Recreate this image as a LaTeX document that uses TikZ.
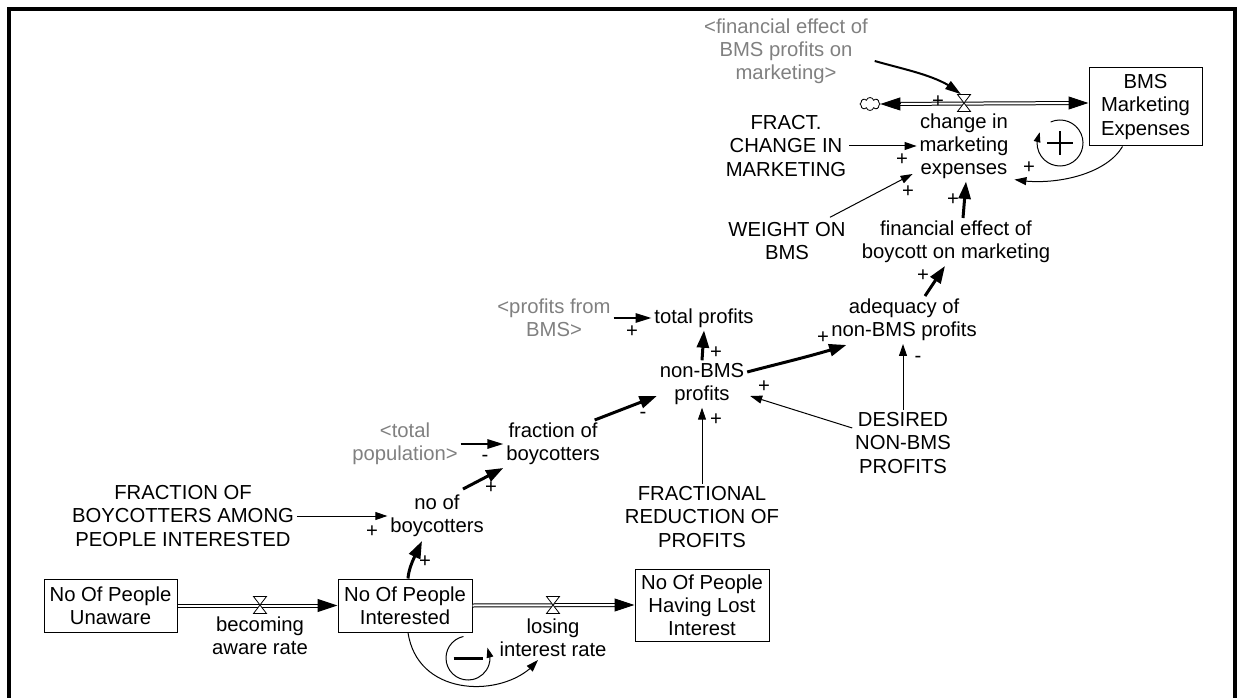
\documentclass[tikz,border=0pt]{standalone}
\usepackage{fontspec}
\setmainfont{Liberation Sans}
\usetikzlibrary{arrows.meta,bending,shapes.symbols}
\definecolor{shadowgray}{RGB}{128,128,128}
\newcommand\dfont{\fontsize{15.2pt}{17.4pt}\selectfont}

\tikzset{
  valveglyph/.pic={\draw[fill=white,line width=0.6pt] (-6.5,-8.5) -- (6.5,-8.5) -- (-6.5,8.5) -- (6.5,8.5) -- cycle;},
}

\begin{document}
\begin{tikzpicture}[x=0.75pt,y=-0.75pt,
  every node/.style={font=\dfont, inner sep=2pt, align=center},
  stock/.style={draw, line width=0.75pt, inner sep=1pt},
  shadowvar/.style={text=shadowgray},
  valvebox/.style={inner sep=0pt, minimum width=9.75pt, minimum height=12.75pt},
  sign/.style={inner sep=0pt},
  link/.style={line width=0.75pt, -{Triangle[length=9pt,width=6pt]}},
  midlink/.style={line width=1.5pt, -{Triangle[length=12pt,width=7pt]}},
  boldlink/.style={line width=2.25pt, -{Triangle[length=13pt,width=9pt]}},
  pipe/.style={double, line width=0.75pt, double distance=1.5pt},
  flowtip/.style={line width=0.75pt, -{Triangle[length=15pt,width=9.75pt]}},
  looparc/.style={line width=0.75pt, -{Triangle[length=7.5pt,width=5pt]}},
]
\useasboundingbox (0,0) rectangle (1241,698);

% frame, open at the bottom
\draw[line width=3pt] (9,698) -- (9,9) -- (1235,9) -- (1235,698);

% stocks
\node[stock, minimum width=133*0.75pt, minimum height=53*0.75pt] (unaware) at (110.5,605.5) {No Of People\\Unaware};
\node[stock, minimum width=134*0.75pt, minimum height=53*0.75pt] (interested) at (405,605.5) {No Of People\\Interested};
\node[stock, minimum width=134*0.75pt, minimum height=72*0.75pt] (lost) at (702,605) {No Of People\\Having Lost\\Interest};
\node[stock, minimum width=113*0.75pt, minimum height=78*0.75pt] (bms) at (1145.5,107) {BMS\\Marketing\\Expenses};
\node[cloud, draw, cloud puffs=8, line width=0.6pt, inner sep=0pt, minimum width=15pt, minimum height=9.75pt] (source) at (870,104) {};

% valves
\node[valvebox] (vAware) at (260,605) {};
\node[valvebox] (vLose) at (553,605) {};
\node[valvebox] (vMkt) at (964,103) {};

% flow labels
\node (lAware) at (260,636) {becoming\\aware rate};
\node (lLose) at (553,638) {losing\\interest rate};
\node (lMkt) at (964,146) {change in\\marketing\\expenses};

% auxiliaries
\node[shadowvar] (finbms) at (786,51) {\textless financial effect of\\BMS profits on\\marketing\textgreater};
\node (fract) at (786,146) {FRACT.\\CHANGE IN\\MARKETING};
\node (weight) at (787,241) {WEIGHT ON\\BMS};
\node (finboy) at (956,242) {financial effect of\\boycott on marketing};
\node (adequacy) at (904,320) {adequacy of\\non-BMS profits};
\node (desired) at (903,443) {DESIRED\\NON-BMS\\PROFITS};
\node (total) at (704,318) {total profits};
\node[shadowvar] (profbms) at (554,318) {\textless profits from\\BMS\textgreater};
\node (nonbms) at (702,384) {non-BMS\\profits};
\node (fracboy) at (553,444) {fraction of\\boycotters};
\node[shadowvar] (totpop) at (405,444) {\textless total\\population\textgreater};
\node (noboy) at (437,516) {no of\\boycotters};
\node (among) at (183,516) {FRACTION OF\\BOYCOTTERS AMONG\\PEOPLE INTERESTED};
\node (fracred) at (702,517) {FRACTIONAL\\REDUCTION OF\\PROFITS};

% flow pipes
\draw[pipe, shorten >=14pt] (unaware.east) -- (interested.west);
\draw[flowtip] ([shift={(-20,0)}]interested.west) -- (interested.west);
\draw[pipe, shorten >=14pt] (interested.east) -- (lost.west);
\draw[flowtip] ([shift={(-20,0)}]lost.west) -- (lost.west);
\draw[pipe, shorten <=14pt, shorten >=14pt] (source.east) -- ([shift={(0,-4)}]bms.west);
\draw[flowtip] ([shift={(20,0)}]source.east) -- (source.east);
\draw[flowtip] ([shift={(-20,-4)}]bms.west) -- ([shift={(0,-4)}]bms.west);
\pic at (vAware) {valveglyph};
\pic at (vLose) {valveglyph};
\pic at (vMkt) {valveglyph};

% causal links
\draw[midlink] ([shift={(4,10)}]finbms.east) .. controls +(35,10) and +(-20,-18) .. ([shift={(-3,0)}]vMkt.north);
\draw[link] (fract.east) -- (lMkt.west);
\draw[link] ([shift={(43,-2)}]weight.north) -- ([shift={(-4,28)}]lMkt.west);
\draw[boldlink] ([shift={(7,0)}]finboy.north) -- ([shift={(2,0)}]lMkt.south);
\draw[link] ([shift={(-23,0)}]bms.south) .. controls +(-17,29) and +(37,7) .. ([shift={(3,-2)}]lMkt.south east);
\draw[midlink] (profbms.east) -- (total.west);
\draw[boldlink] (nonbms.north) -- (total.south);
\draw[link] (fracred.north) -- (fracred.north |- nonbms.south);
\draw[boldlink] ([shift={(-8,0)}]fracboy.north east) -- ([shift={(0,12)}]nonbms.west);
\draw[midlink] (totpop.east) -- (fracboy.west);
\draw[boldlink] ([shift={(26,-3)}]noboy.north) -- (fracboy.south west);
\draw[link] (among.east) -- (noboy.west);
\draw[boldlink] ([shift={(3,0)}]interested.north) .. controls +(1,-14) and +(-5,12) .. ([shift={(-15,1)}]noboy.south);
\draw[boldlink] ([shift={(0,-12)}]nonbms.east) .. controls +(30,-8) and +(-30,10) .. ([shift={(18,1)}]adequacy.south west);
\draw[link] (desired.north) -- (desired.north |- adequacy.south);
\draw[link] ([shift={(0,-15)}]desired.west) -- ([shift={(3,12)}]nonbms.east);
\draw[boldlink] ([shift={(21,0)}]adequacy.north) -- ([shift={(-11,0)}]finboy.south);
\draw[link] ([shift={(3,0)}]interested.south) .. controls +(10,68) and +(-28,38) .. ([shift={(-15,0)}]lLose.south);

% polarities
\node[sign] (s1) at (938,102) {+};
\node[sign] (s2) at (902,160) {+};
\node[sign] (s3) at (908,192) {+};
\node[sign] (s4) at (953,200) {+};
\node[sign] (s5) at (1029,168) {+};
\node[sign] (s6) at (632,332) {+};
\node[sign] (s7) at (716,353) {+};
\node[sign] (s8) at (716,420) {+};
\node[sign] (s9) at (643,415) {-};
\node[sign] (s10) at (485,458) {-};
\node[sign] (s11) at (491,488) {+};
\node[sign] (s12) at (372,532) {+};
\node[sign] (s13) at (425,562) {+};
\node[sign] (s14) at (823,338) {+};
\node[sign] (s15) at (918,359) {-};
\node[sign] (s16) at (764,387) {+};
\node[sign] (s17) at (923,276) {+};

% loop markers
\node[inner sep=0pt] (loopR) at (1060,143) {};
\node[inner sep=0pt] (loopB) at (468,658) {};
\begin{scope}[y=0.75pt]
  % reinforcing loop, turning clockwise
  \draw[line width=1.1pt] ([shift={(-13,0)}]loopR.center) -- ([shift={(13,0)}]loopR.center);
  \draw[line width=1.1pt] ([shift={(0,-12)}]loopR.center) -- ([shift={(0,12)}]loopR.center);
  \draw[looparc] ([shift={(114:23)}]loopR.center) arc[start angle=114, end angle=-208, radius=23];
  % balancing loop, turning counter-clockwise
  \draw[line width=2.25pt] ([shift={(-14.5,0)}]loopB.center) -- ([shift={(14.5,0)}]loopB.center);
  \draw[looparc] ([shift={(102:22)}]loopB.center) arc[start angle=102, end angle=388, radius=22];
\end{scope}
\end{tikzpicture}
\end{document}
